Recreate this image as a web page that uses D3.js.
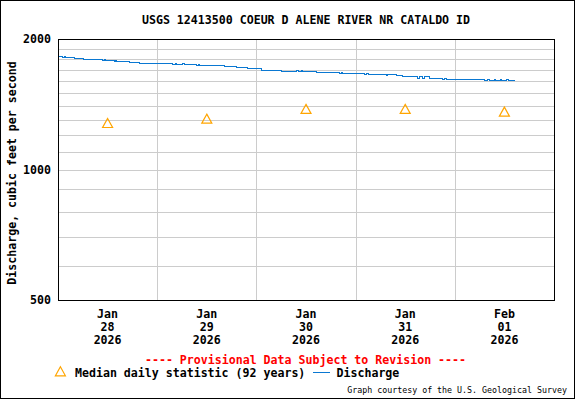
<!DOCTYPE html>
<html>
<head>
<meta charset="utf-8">
<script src="https://cdn.jsdelivr.net/npm/d3@7"></script>
<style>
  body { margin: 0; background: #fff; }
  text { font-family: "DejaVu Sans Mono", "Liberation Mono", monospace; }
</style>
</head>
<body>
<script>
let w = 576;
let h = 400;

// discharge: hours after Jan 28 2026 00:00 and cfs
let dischargeHours = [0, 1.0, 1.5, 1.8, 4.1, 6.1, 10.8, 11.3, 11.6, 13.6, 13.9, 14.2, 17.3, 19.7,
  27.7, 28.4, 28.7, 30.2, 30.5, 33.5, 34.0, 34.3, 40.2, 43.1, 45.9, 49.3, 54.0, 57.8, 58.1,
  58.8, 59.1, 62.5, 68.1, 68.5, 68.8, 74.2, 74.6, 75.0, 79.4, 79.8, 82.0, 83.4, 87.0, 87.5,
  88.3, 88.7, 89.9, 93.0, 93.4, 94.0, 103.2, 104.0, 104.3, 105.5, 105.8, 107.0, 107.3,
  108.6, 108.9, 110.5];
let dischargeCfs = [1830, 1820, 1830, 1820, 1810, 1800, 1790, 1800, 1790, 1780, 1790, 1780, 1770, 1760,
  1750, 1760, 1750, 1760, 1750, 1740, 1750, 1740, 1730, 1720, 1710, 1700, 1690, 1700, 1690,
  1700, 1690, 1680, 1670, 1680, 1670, 1660, 1670, 1660, 1650, 1660, 1650, 1640, 1630, 1640,
  1630, 1640, 1630, 1620, 1630, 1620, 1610, 1620, 1610, 1620, 1610, 1620, 1610,
  1620, 1610, 1610];

// median daily statistic (92 years)
let medianDays = ["2026-01-28", "2026-01-29", "2026-01-30", "2026-01-31", "2026-02-01"];
let medianCfs = [1280, 1310, 1380, 1380, 1360];

let yLabels = [500, 1000, 2000];
let yGrid = [600, 700, 800, 900, 1000, 1100, 1200, 1300, 1400, 1500, 1600, 1700, 1800, 1900];

let start = new Date(2026, 0, 28);
let end = new Date(2026, 1, 2);
let parseDay = d3.timeParse("%Y-%m-%d");

let x = d3.scaleTime().domain([start, end]).range([58, 554]);
let y = d3.scaleLog().domain([500, 2000]).range([300, 39]);

let svg = d3.select("body").append("svg").attr("width", w).attr("height", h);

svg.append("rect")
  .attr("x", 0.5).attr("y", 0.5).attr("width", 574).attr("height", 398)
  .attr("fill", "#fff").attr("stroke", "#000");

// grid
let grid = svg.append("g").attr("shape-rendering", "crispEdges").attr("stroke", "#cccccc");
grid.selectAll("line.h")
  .data(yGrid)
  .enter()
  .append("line")
  .attr("x1", x.range()[0]).attr("x2", x.range()[1])
  .attr("y1", (d) => Math.round(y(d)) + 0.5)
  .attr("y2", (d) => Math.round(y(d)) + 0.5);
grid.selectAll("line.v")
  .data(d3.timeDay.range(d3.timeDay.offset(start, 1), end))
  .enter()
  .append("line")
  .attr("x1", (d) => Math.round(x(d)) + 0.5)
  .attr("x2", (d) => Math.round(x(d)) + 0.5)
  .attr("y1", y.range()[1]).attr("y2", y.range()[0]);

// discharge line
let pts = dischargeHours.map((hr, i) => [d3.timeMinute.offset(start, Math.round(hr * 60)), dischargeCfs[i]]);
let line = d3.line()
  .x((d) => x(d[0]))
  .y((d) => Math.round(y(d[1])) + 0.5)
  .curve(d3.curveStepAfter);
svg.append("path")
  .datum(pts)
  .attr("d", line)
  .attr("fill", "none")
  .attr("stroke", "#0a78d2")
  .attr("stroke-width", 1)
  .attr("shape-rendering", "crispEdges");

// median triangles
function tri(cx, cy) {
  return "M" + cx + "," + (cy - 4.5) + "L" + (cx + 5) + "," + (cy + 4.5) + "L" + (cx - 5) + "," + (cy + 4.5) + "Z";
}
svg.selectAll("path.median")
  .data(medianDays)
  .enter()
  .append("path")
  .attr("class", "median")
  .attr("d", (d, i) => tri(x(d3.timeHour.offset(parseDay(d), 12)), y(medianCfs[i])))
  .attr("fill", "none")
  .attr("stroke", "#ffa500")
  .attr("stroke-width", 1.2);

// plot frame
svg.append("rect")
  .attr("x", x.range()[0] + 0.5).attr("y", y.range()[1] + 0.5)
  .attr("width", x.range()[1] - x.range()[0]).attr("height", y.range()[0] - y.range()[1])
  .attr("fill", "none").attr("stroke", "#000").attr("shape-rendering", "crispEdges");

let bold = "bold 11.6px 'DejaVu Sans Mono'";

// y labels
svg.selectAll("text.ylab")
  .data(yLabels)
  .enter()
  .append("text")
  .attr("x", 51)
  .attr("y", (d) => y(d) + 4)
  .attr("text-anchor", "end")
  .style("font", bold)
  .text((d) => d);

svg.append("text")
  .attr("transform", "translate(16,173) rotate(-90)")
  .attr("text-anchor", "middle")
  .style("font", bold)
  .text("Discharge, cubic feet per second");

// x labels at noon
let xl = svg.selectAll("text.xlab")
  .data(medianDays)
  .enter()
  .append("text")
  .attr("text-anchor", "middle")
  .style("font", bold);
let fmts = [d3.timeFormat("%b"), d3.timeFormat("%d"), d3.timeFormat("%Y")];
fmts.forEach((f, k) => {
  xl.append("tspan")
    .attr("x", (d) => x(d3.timeHour.offset(parseDay(d), 12)))
    .attr("y", 318 + k * 13)
    .text((d) => f(parseDay(d)));
});

svg.append("text")
  .attr("x", 306).attr("y", 24)
  .attr("text-anchor", "middle")
  .style("font", bold)
  .text("USGS 12413500 COEUR D ALENE RIVER NR CATALDO ID");

svg.append("text")
  .attr("x", 305.5).attr("y", 363.5)
  .attr("text-anchor", "middle")
  .attr("fill", "#ff0000")
  .style("font", bold)
  .text("---- Provisional Data Subject to Revision ----");

// legend
svg.append("path")
  .attr("d", tri(60.4, 371.3))
  .attr("fill", "none").attr("stroke", "#ffa500").attr("stroke-width", 1.2);
svg.append("text")
  .attr("x", 75).attr("y", 377)
  .style("font", bold)
  .text("Median daily statistic (92 years)");
svg.append("line")
  .attr("x1", 313).attr("x2", 330).attr("y1", 372.5).attr("y2", 372.5)
  .attr("stroke", "#0a78d2").attr("shape-rendering", "crispEdges");
svg.append("text")
  .attr("x", 336.5).attr("y", 377)
  .style("font", bold)
  .text("Discharge");

svg.append("text")
  .attr("x", 567).attr("y", 393)
  .attr("text-anchor", "end")
  .style("font", "8.3px 'DejaVu Sans Mono'")
  .text("Graph courtesy of the U.S. Geological Survey");
</script>
</body>
</html>
